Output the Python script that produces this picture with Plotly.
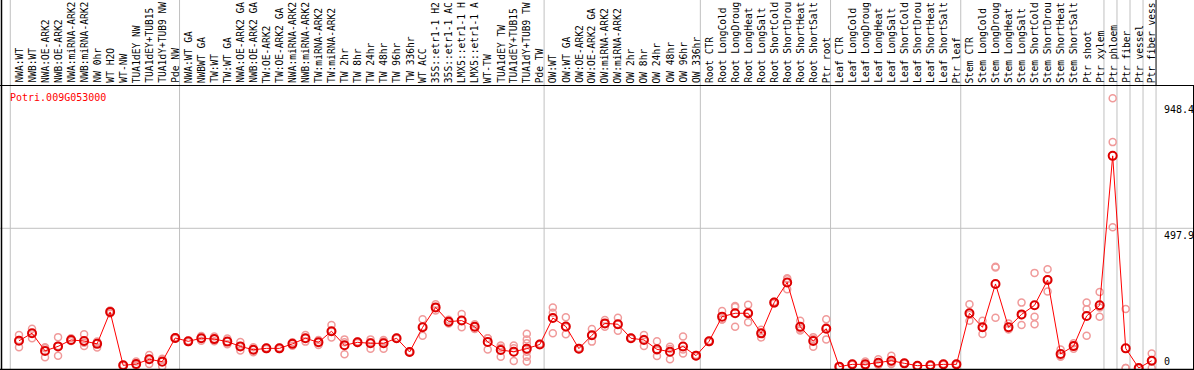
import plotly.graph_objects as go

# ---------------- data ----------------
samples = [
    "NWA:WT", "NWB:WT", "NWA:OE-ARK2", "NWB:OE-ARK2", "NWA:miRNA-ARK2", "NWB:miRNA-ARK2",
    "NW 0hr", "WT H2O", "WT-NW", "TUA1dEY NW", "TUA1dEY+TUB15", "TUA1dY+TUB9 NW", "Pde NW",
    "NWA:WT GA", "NWBWT GA", "TW:WT", "TW:WT GA", "NWA:OE-ARK2 GA", "NWB:OE-ARK2 GA",
    "TW:OE-ARK2", "TW:OE-ARK2 GA", "NWA:miRNA-ARK2", "NWB:miRNA-ARK2", "TW:miRNA-ARK2",
    "TW:miRNA-ARK2", "TW 2hr", "TW 8hr", "TW 24hr", "TW 48hr", "TW 96hr", "TW 336hr",
    "WT ACC", "35S::etr1-1 H2", "35S::etr1-1 AC", "LMX5::etr1-1 H", "LMX5::etr1-1 A",
    "WT-TW", "TUA1dEY TW", "TUA1dEY+TUB15", "TUA1dY+TUB9 TW", "Pde TW",
    "OW:WT", "OW:WT GA", "OW:OE-ARK2", "OW:OE-ARK2 GA", "OW:miRNA-ARK2", "OW:miRNA-ARK2",
    "OW 2hr", "OW 8hr", "OW 24hr", "OW 48hr", "OW 96hr", "OW 336hr",
    "Root CTR", "Root LongCold", "Root LongDroug", "Root LongHeat", "Root LongSalt",
    "Root ShortCold", "Root ShortDrou", "Root ShortHeat", "Root ShortSalt", "Ptr root",
    "Leaf CTR", "Leaf LongCold", "Leaf LongDroug", "Leaf LongHeat", "Leaf LongSalt",
    "Leaf ShortCold", "Leaf ShortDrou", "Leaf ShortHeat", "Leaf ShortSalt", "Ptr leaf",
    "Stem CTR", "Stem LongCold", "Stem LongDroug", "Stem LongHeat", "Stem LongSalt",
    "Stem ShortCold", "Stem ShortDrou", "Stem ShortHeat", "Stem ShortSalt", "Ptr shoot",
    "Ptr xylem", "Ptr phloem", "Ptr fiber", "Ptr vessel", "Ptr fiber vess",
]

mean_values = [
    97, 124, 61, 77, 100, 96, 86, 200, 9.5, 14, 31, 22.6, 107,
    95, 106, 103, 94, 77, 65, 70, 70, 86, 106, 91.5, 131, 81, 91.5, 88, 88, 106, 57,
    145, 216, 165, 169, 147, 93, 64, 58, 69, 84,
    178, 148, 69, 116.5, 159, 156, 106, 100, 66.5, 58, 76.7, 44,
    95, 183, 195, 195, 123.5, 233, 305, 147, 96, 140,
    4.8, 13, 13, 19, 26, 16.6, 8.3, 9.5, 13, 13,
    195, 145, 299.5, 145, 191, 223.4, 313.7, 50, 78, 185.5, 223.4,
    756, 70, 0, 26,
]

replicates = [
    [118, 100, 74], [140, 124, 106], [74, 70, 38], [110, 78, 44], [106, 97, 96],
    [120, 90, 78], [94, 90, 73], [205, 200, 194], [11, 9, 8], [23, 12, 8],
    [46, 32, 14], [33, 30, 5], [110, 107, 104],
    [97, 95, 93], [114, 106, 97], [112, 103, 95], [105, 94, 85], [93, 78, 62],
    [74, 65, 56], [72, 70, 68], [72, 70, 68], [92, 86, 79], [118, 106, 94],
    [100, 92, 82], [153, 130, 109], [102, 92, 49], [94, 91, 89], [102, 92, 69],
    [100, 94, 69], [108, 106, 104], [59, 57, 55], [174, 147, 115], [227, 216, 205],
    [172, 165, 159], [192, 169, 145], [156, 147, 139], [106, 106, 66], [80, 72, 40],
    [80, 70, 25], [122, 102, 88, 58, 40, 23], [86, 84, 83],
    [216, 197, 124], [181, 145, 120], [71, 69, 67], [139, 117, 94], [171, 159, 147],
    [179, 155, 133], [108, 106, 104], [118, 103, 78], [95, 62, 43], [76, 68, 31],
    [112, 66, 52], [46, 44, 42],
    [97, 95, 93], [203, 173, 173], [221, 217, 147], [225, 197, 163], [136, 125, 109],
    [236, 233, 230], [320, 316, 281], [168, 140, 134], [110, 103, 76], [174, 145, 102],
    [5, 5, 4], [14, 13, 12], [23, 10, 7], [31, 15, 11], [44, 20, 14],
    [18, 17, 15], [9, 8, 8], [10, 10, 9], [14, 13, 12], [14, 13, 12],
    [227, 190, 168], [168, 146, 121], [361, 358, 179], [159, 138, 138], [233, 188, 153],
    [339, 183, 156], [352, 316, 273], [66, 43, 40], [88, 78, 69], [233, 209, 115],
    [271, 216, 183],
    [961, 805, 502], [210, 0, 0], [0, 0, 0], [52, 26, 0],
]

# index of last column of each group (group separators drawn after these)
group_ends = [-1, 12, 40, 52, 62, 72, 83, 84, 85, 86, 87]

gene_name = "Potri.009G053000"
axis_ticks = [948.4, 497.9, 0]

# ---------------- layout constants ----------------
W, H = 1194, 370
LABEL_H = 85          # height of the label band (px)
COL_W = 13.02         # px per column
X0 = 19               # px of first column
ZERO_PX = 368         # px of value 0
PX_PER_UNIT = 0.2806

x_lo = (0 - X0) / COL_W
x_hi = (W - X0) / COL_W
y_lo = -(H - ZERO_PX) / PX_PER_UNIT
y_hi = (ZERO_PX - LABEL_H) / PX_PER_UNIT
dom_top = 1 - LABEL_H / H

def py(p):  # pixel y -> paper
    return 1 - p / H

def px(p):  # pixel x -> paper
    return p / W

FONT = "DejaVu Sans Mono"

fig = go.Figure()

rx, ry = [], []
for i, reps in enumerate(replicates):
    for v in reps:
        rx.append(i)
        ry.append(v)

fig.add_trace(go.Scatter(
    x=rx, y=ry, mode="markers",
    marker=dict(symbol="circle-open", size=7, color="#f09a9a", line=dict(width=1.5)),
    hoverinfo="skip", showlegend=False, cliponaxis=False,
))
fig.add_trace(go.Scatter(
    x=list(range(len(mean_values))), y=mean_values, mode="lines+markers",
    line=dict(color="#ff0000", width=1),
    marker=dict(symbol="circle-open", size=8, color="#dd0000", line=dict(width=2)),
    hoverinfo="skip", showlegend=False, cliponaxis=False,
))

shapes = []
# vertical group separators
for g in group_ends:
    xv = g + 0.33
    if g == group_ends[-1]:
        shapes.append(dict(type="line", xref="x", yref="paper", x0=xv, x1=xv,
                           y0=py(369), y1=dom_top, line=dict(color="#c0c0c0", width=1),
                           layer="below"))
        shapes.append(dict(type="line", xref="x", yref="paper", x0=xv, x1=xv,
                           y0=dom_top, y1=1, line=dict(color="#000000", width=1)))
    else:
        shapes.append(dict(type="line", xref="x", yref="paper", x0=xv, x1=xv,
                           y0=py(369), y1=1, line=dict(color="#c0c0c0", width=1),
                           layer="below"))
# horizontal gridline at middle tick
shapes.append(dict(type="line", xref="paper", yref="y", x0=0, x1=1,
                   y0=axis_ticks[1], y1=axis_ticks[1],
                   line=dict(color="#c0c0c0", width=1), layer="below"))
# black frame lines
shapes.append(dict(type="line", xref="paper", yref="paper", x0=0, x1=1,
                   y0=py(85.5), y1=py(85.5), line=dict(color="#000", width=1.2)))
shapes.append(dict(type="line", xref="paper", yref="paper", x0=0, x1=1,
                   y0=py(369.5), y1=py(369.5), line=dict(color="#000", width=1.5)))
shapes.append(dict(type="line", xref="paper", yref="paper", x0=px(1.5), x1=px(1.5),
                   y0=0, y1=1, line=dict(color="#000", width=1.5)))
shapes.append(dict(type="line", xref="paper", yref="paper", x0=px(1193.5), x1=px(1193.5),
                   y0=py(85), y1=py(370), line=dict(color="#000", width=1)))

annotations = []
for i, s in enumerate(samples):
    annotations.append(dict(
        x=i, xref="x", y=py(84), yref="paper", text=s, textangle=-90,
        xanchor="center", yanchor="bottom", showarrow=False, borderpad=0,
        font=dict(family=FONT, size=9.6, color="#000"),
    ))
annotations.append(dict(
    x=px(8), xref="paper", y=py(97), yref="paper", text=gene_name,
    xanchor="left", yanchor="middle", showarrow=False,
    font=dict(family=FONT, size=10, color="#ff0000"),
))
annotations.append(dict(x=px(1162), xref="paper", y=axis_ticks[0], yref="y",
                        text=f"{axis_ticks[0]}", xanchor="left", yanchor="top",
                        showarrow=False, font=dict(family=FONT, size=10, color="#000")))
annotations.append(dict(x=px(1162), xref="paper", y=axis_ticks[1], yref="y",
                        text=f"{axis_ticks[1]}", xanchor="left", yanchor="top",
                        showarrow=False, font=dict(family=FONT, size=10, color="#000")))
annotations.append(dict(x=px(1162), xref="paper", y=py(369), yref="paper",
                        text=f"{axis_ticks[2]}", xanchor="left", yanchor="bottom",
                        showarrow=False, font=dict(family=FONT, size=10, color="#000")))

fig.update_layout(
    width=W, height=H,
    margin=dict(l=0, r=0, t=0, b=0),
    paper_bgcolor="white", plot_bgcolor="white",
    xaxis=dict(range=[x_lo, x_hi], visible=False, fixedrange=True),
    yaxis=dict(range=[y_lo, y_hi], domain=[0, dom_top], visible=False, fixedrange=True),
    shapes=shapes, annotations=annotations, showlegend=False,
)

fig.write_html(
    "out.html",
    config={"displayModeBar": False},
    post_script="document.body.style.margin='0';document.body.style.overflow='hidden';",
)
